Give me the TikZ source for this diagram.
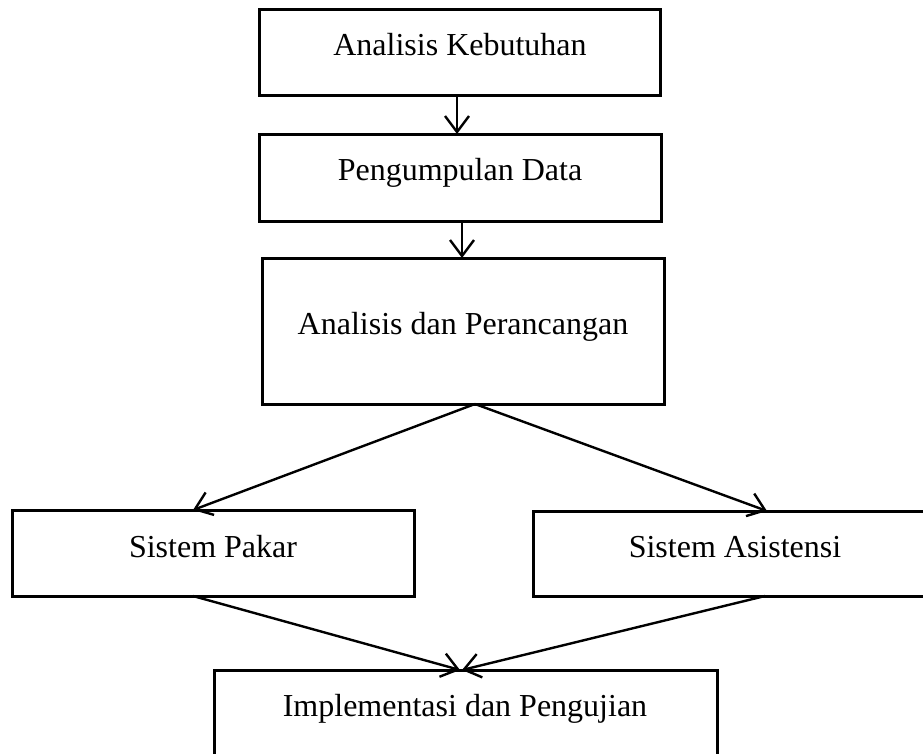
\documentclass[tikz,border=0pt]{standalone}
\usepackage{fontspec}
\setmainfont{Liberation Serif}
\usetikzlibrary{arrows.meta}
\begin{document}
\begin{tikzpicture}[x=1pt,y=-1pt,
  box/.style={draw, line width=3pt, rectangle, inner sep=0pt, outer sep=0pt},
  lbl/.style={anchor=base, font=\fontsize{32}{38}\selectfont, inner sep=0pt},
  arr/.style={line width=2.4pt, -{Straight Barb[length=16pt,width=24pt]}}]
\useasboundingbox (0,0) rectangle (923,753);
\clip (0,0) rectangle (923,753);
% boxes
\node[box, minimum width=401pt, minimum height=86pt] (b1) at (459.5,52) {};
\node[box, minimum width=402pt, minimum height=87pt] (b2) at (460,177.5) {};
\node[box, minimum width=402pt, minimum height=146pt] (b3) at (463,331) {};
\node[box, minimum width=402pt, minimum height=86pt] (b4) at (213,553) {};
\node[box, minimum width=404pt, minimum height=85pt] (b5) at (735,553.5) {};
\node[box, minimum width=503pt, minimum height=87pt] (b6) at (465.5,713.5) {};
% labels
\node[lbl] (t1) at (460,55) {Analisis Kebutuhan};
\node[lbl] (t2) at (460,180) {Pengumpulan Data};
\node[lbl] (t3) at (463,334) {Analisis dan Perancangan};
\node[lbl] (t4) at (213,557) {Sistem Pakar};
\node[lbl] (t5) at (735,557) {Sistem Asistensi};
\node[lbl] (t6) at (465,716) {Implementasi dan Pengujian};
% connectors
\draw[arr] (b1.south -| 457,0) -- (b2.north -| 457,0);
\draw[arr] (b2.south -| 462,0) -- (b3.north -| 462,0);
\draw[arr] (b3.south -| 475,0) -- (b4.north -| 193,0);
\draw[arr] (b3.south -| 475,0) -- (b5.north -| 767,0);
\draw[arr] (b4.south -| 193,0) -- (b6.north -| 460,0);
\draw[arr] (b5.south -| 765,0) -- (b6.north -| 462,0);
\end{tikzpicture}
\end{document}
